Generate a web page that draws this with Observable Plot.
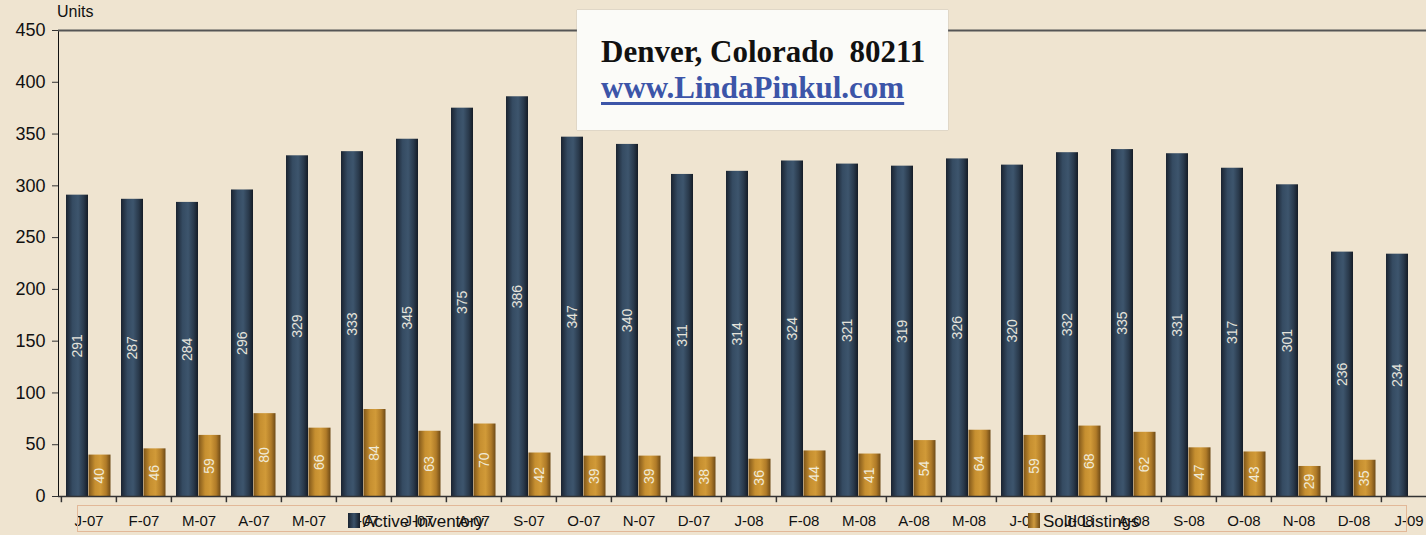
<!DOCTYPE html>
<html><head><meta charset="utf-8">
<script src="https://cdn.jsdelivr.net/npm/d3@7"></script>
<script src="https://cdn.jsdelivr.net/npm/@observablehq/plot@0.6"></script>
<style>
html,body{margin:0;padding:0;overflow:hidden;background:#efe4d0;}
#wrap{position:relative;width:1426px;height:535px;overflow:hidden;background:#efe4d0;}
#wrap svg{position:absolute;left:0;top:0;overflow:hidden;}
.units{position:absolute;left:57px;top:3px;font:16px "Liberation Sans",Arial,sans-serif;color:#111;}
.titlebox{position:absolute;left:577px;top:10px;width:371px;height:120px;background:#fbfbf8;box-shadow:0 0 1px #999;}
.t1,.t2{position:absolute;left:24px;white-space:pre;font-family:"Liberation Serif","Times New Roman",serif;font-weight:bold;font-size:31px;line-height:1;}
.t1{top:26px;color:#111;}
.t2{top:62px;color:#3c55a8;text-decoration:underline;text-underline-offset:4px;}
.legend{position:absolute;left:77px;top:505px;width:1330px;height:27px;border:1px solid #e2b898;box-sizing:border-box;}
.li{position:absolute;top:7px;font:17px "Liberation Sans",Arial,sans-serif;color:#111;line-height:1;white-space:nowrap;}
.sw{display:inline-block;width:12px;height:15px;margin-right:3px;vertical-align:-1px;}
</style></head><body><div id="wrap"></div>
<script>
const monthLabels = ["J-07","F-07","M-07","A-07","M-07","J-07","J-07","A-07","S-07","O-07","N-07","D-07","J-08","F-08","M-08","A-08","M-08","J-08","J-08","A-08","S-08","O-08","N-08","D-08","J-09"];
const activeInventory = [291,287,284,296,329,333,345,375,386,347,340,311,314,324,321,319,326,320,332,335,331,317,301,236,234];
const soldListings = [40,46,59,80,66,84,63,70,42,39,39,38,36,44,41,54,64,59,68,62,47,43,29,35,null];
const yTicks = [0,50,100,150,200,250,300,350,400,450];
const seriesNames = ["Active Inventory","Sold Listings"];

const idx = monthLabels.map((_, i) => i);
const step = 55.2;
const x0 = 58;
const soldIdx = idx.filter(i => soldListings[i] != null);

const plot = Plot.plot({
  width: 1426, height: 535,
  marginTop: 30, marginBottom: 39, marginLeft: x0, marginRight: 0,
  style: {background: "transparent", fontFamily: "'Liberation Sans', Arial, sans-serif", fontSize: "15px", color: "#111"},
  x: {domain: idx, range: [x0, x0 + idx.length * step], padding: 0, tickSize: 0, tickPadding: 19,
      tickFormat: i => monthLabels[i], line: true, label: null},
  y: {domain: [0, 450], ticks: yTicks, tickSize: 6, tickPadding: 7, line: true, label: null},
  marks: [
    Plot.ruleY([450], {stroke: "#555", strokeWidth: 2}),
    Plot.barY(idx, {x: d => d, y: d => activeInventory[d], fill: "url(#gActive)", insetLeft: 5, insetRight: 28}),
    Plot.barY(soldIdx, {x: d => d, y: d => soldListings[d], fill: "url(#gSold)", insetLeft: 27.5, insetRight: 5.5}),
    Plot.text(idx, {x: d => d, y: d => activeInventory[d] / 2, text: d => String(activeInventory[d]), rotate: -90,
      dx: -11.6, fill: "#e6e4dc", fontSize: 14}),
    Plot.text(soldIdx, {x: d => d, y: d => soldListings[d] / 2, text: d => String(soldListings[d]), rotate: -90,
      dx: 10.9, fill: "#f0ead8", fontSize: 14}),
    Plot.ruleX(idx, {x: d => d, dx: -step / 2, y1: 0, y2: -6, stroke: "#333", strokeWidth: 1.5}),
    Plot.ruleY([0], {stroke: "#333", strokeWidth: 1.5})
  ]
});

const svg = d3.select(plot);
const defs = svg.insert("defs", ":first-child");
function grad(id, stops) {
  const g = defs.append("linearGradient").attr("id", id).attr("x1", "0").attr("x2", "1").attr("y1", "0").attr("y2", "0");
  stops.forEach(([o, c]) => g.append("stop").attr("offset", o).attr("stop-color", c));
}
grad("gActive", [[0, "#1a2330"], [0.3, "#354b62"], [0.55, "#3d556d"], [0.8, "#2a3a4c"], [1, "#151c26"]]);
grad("gSold", [[0, "#7f561a"], [0.3, "#c68f30"], [0.55, "#d19a38"], [0.8, "#b07b28"], [1, "#6e4a16"]]);
svg.selectAll('[aria-label^="y-axis"] text').style("font-size", "18px");
svg.selectAll('[aria-label^="y-axis"] line, [aria-label^="y-axis"] path').style("stroke", "#333");

const wrap = document.getElementById("wrap");
wrap.appendChild(plot);
wrap.insertAdjacentHTML("beforeend", `
  <div class="units">Units</div>
  <div class="titlebox"><div class="t1">Denver, Colorado  80211</div><div class="t2">www.LindaPinkul.com</div></div>
  <div class="legend">
    <div class="li" style="left:270px"><span class="sw" style="background:linear-gradient(90deg,#1a2330,#3b5269,#151c26)"></span>${seriesNames[0]}</div>
    <div class="li" style="left:950px"><span class="sw" style="background:linear-gradient(90deg,#7f561a,#cf9b3e,#6e4a16)"></span>${seriesNames[1]}</div>
  </div>`);
</script>
</body></html>
